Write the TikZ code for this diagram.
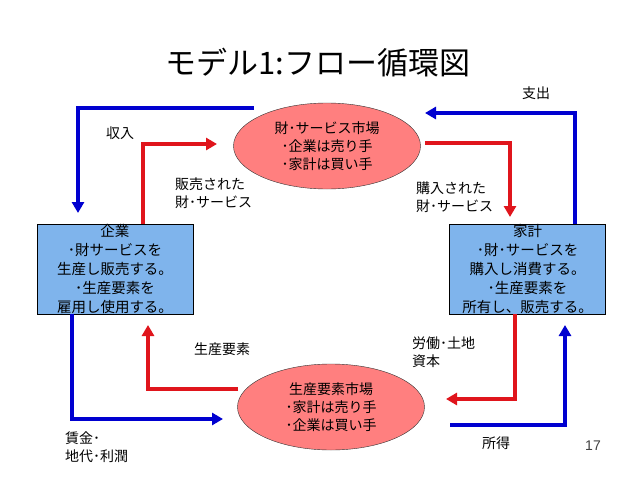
\documentclass[tikz,border=0pt]{standalone}
\usepackage{fontspec}
\setmainfont{Noto Sans CJK JP}
\newfontfamily\numfont{Liberation Sans}
\usetikzlibrary{arrows.meta,shapes.geometric}
\definecolor{flowred}{HTML}{E0151C}
\definecolor{flowblue}{HTML}{0000D0}
\definecolor{mktfill}{HTML}{FF7F7F}
\definecolor{boxfill}{HTML}{7FB4EC}

\begin{document}
\begin{tikzpicture}[x=1pt,y=-1pt,>={Triangle[length=11pt,width=12pt]},
  every node/.style={font=\fontsize{14}{18}\selectfont},
  market/.style={ellipse,draw=black!80,fill=mktfill,minimum width=187pt,minimum height=86pt,inner sep=0pt,align=center},
  agent/.style={draw=black,thick,fill=boxfill,minimum width=156pt,minimum height=90pt,inner sep=0pt,align=center,font=\fontsize{14.5}{19}\selectfont},
  redflow/.style={->,line width=4pt,flowred},
  blueflow/.style={->,line width=4pt,flowblue},
  lbl/.style={align=left,anchor=west,inner sep=0pt}]
\useasboundingbox[fill=white] (0,0) rectangle (638,479);
\node[font=\fontsize{31}{34}\selectfont] (title) at (318,63) {モデル1:フロー循環図};
% markets and agents
\node[market] (goods) at (327,146) {財･サービス市場\\･企業は売り手\\･家計は買い手};
\node[market] (factors) at (331,407) {生産要素市場\\･家計は売り手\\･企業は買い手};
\node[agent] (firm) at (115,269) {企業\\･財サービスを\\生産し販売する。\\･生産要素を\\雇用し使用する。};
\node[agent] (house) at (527.5,269) {家計\\･財･サービスを\\購入し消費する。\\･生産要素を\\所有し、販売する。};
% free ends of the flows
\coordinate (revS) at (254,108);
\coordinate (revE) at (78,213);
\coordinate (soldE) at (217,144);
\coordinate (boughtS) at (425,143);
\coordinate (boughtE) at (510,217);
\coordinate (spendE) at (425,113);
\coordinate (inputS) at (238,389);
\coordinate (inputE) at (148,325);
\coordinate (wageE) at (223,419);
\coordinate (laborE) at (446,399);
\coordinate (incomeS) at (450,425);
\coordinate (incomeE) at (565,325);
% flows
\draw[blueflow] (revS) -| (revE);
\draw[redflow] ([xshift=28pt]firm.north) |- (soldE);
\draw[redflow] (boughtS) -| (boughtE);
\draw[blueflow] ([xshift=47.5pt]house.north) |- (spendE);
\draw[redflow] (inputS) -| (inputE);
\draw[blueflow] ([xshift=-43pt]firm.south) |- (wageE);
\draw[redflow] ([xshift=-12.5pt]house.south) |- (laborE);
\draw[blueflow] (incomeS) -| (incomeE);
% labels
\node (rev) at (120,133) {収入};
\node[lbl] (sold) at (175,193) {販売された\\財･サービス};
\node (spend) at (536,93) {支出};
\node[lbl] (bought) at (416,197) {購入された\\財･サービス};
\node (input) at (222,349) {生産要素};
\node[lbl] (wage) at (65,447) {賃金･\\地代･利潤};
\node[lbl] (labor) at (412,352) {労働･土地\\資本};
\node (income) at (496,443) {所得};
\node[font=\numfont\fontsize{14}{16}\selectfont,text=black!75] (page) at (593,446) {17};
\end{tikzpicture}
\end{document}
